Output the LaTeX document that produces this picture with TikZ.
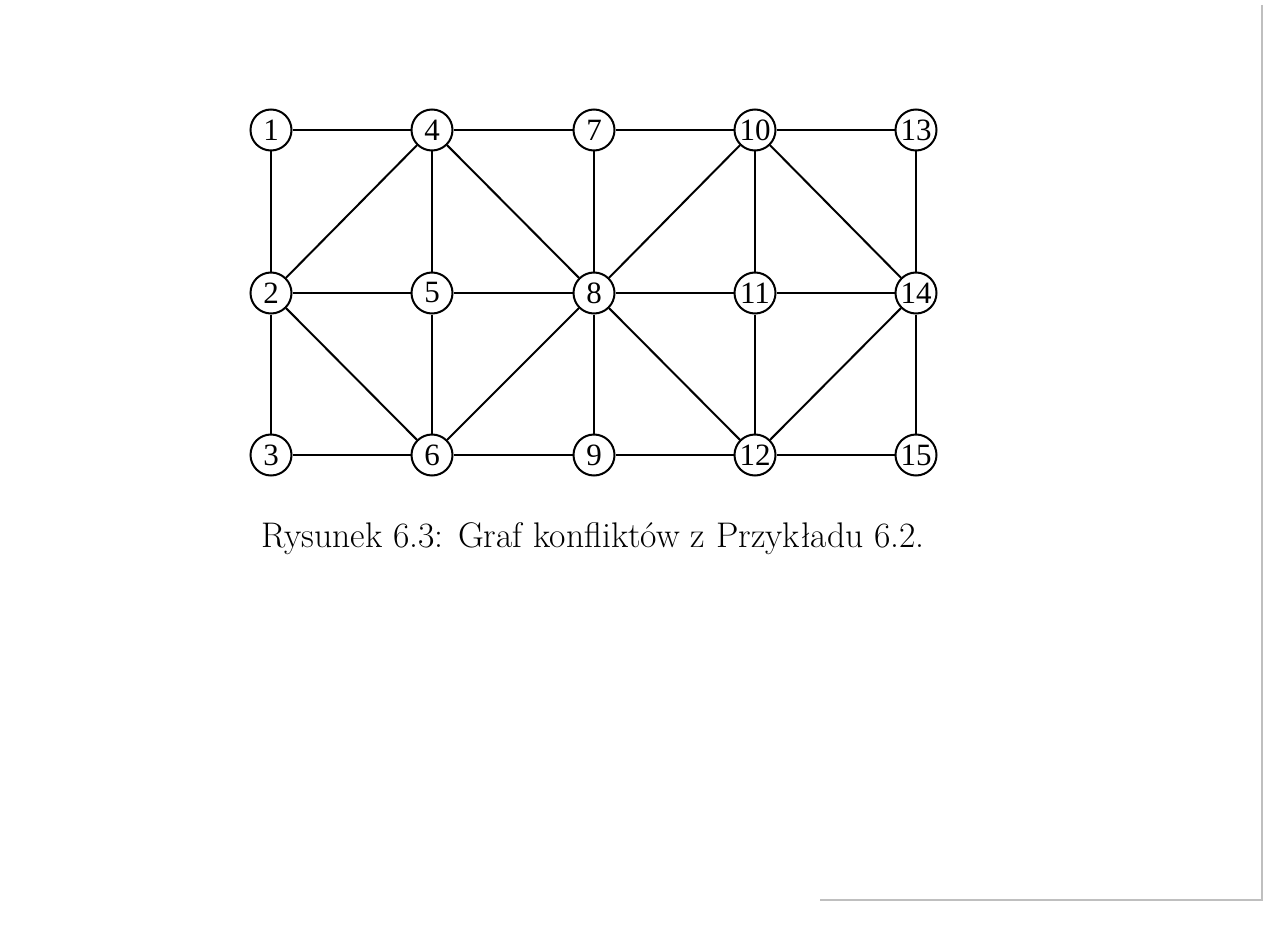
\documentclass[tikz,border=0pt]{standalone}
\usepackage{fontspec}
\newfontfamily\labelfont{Liberation Serif}
\begin{document}
\begin{tikzpicture}[x=0.5pt,y=-0.5pt,
  vtx/.style={circle,draw,line width=1pt,minimum size=20.5pt,inner sep=0pt,font=\labelfont\fontsize{15.5}{15.5}\selectfont},
  edge/.style={line width=1pt},
  scan/.style={line width=0.6pt,black!25}]
\useasboundingbox (0,0) rectangle (1268,925);
\foreach \c/\x in {0/271,1/432,2/594,3/755,4/916}{
  \foreach \r/\y in {1/130,2/293,3/455}{
    \pgfmathtruncatemacro{\n}{3*\c+\r}
    \node[vtx] (v\n) at (\x,\y) {\n};
  }
}
\foreach \a/\b in {1/4,4/7,7/10,10/13,2/5,5/8,8/11,11/14,3/6,6/9,9/12,12/15,
  1/2,2/3,4/5,5/6,7/8,8/9,10/11,11/12,13/14,14/15,
  2/4,4/8,2/6,6/8,8/10,10/14,8/12,12/14}
  \draw[edge] (v\a) -- (v\b);
\node[anchor=base,font=\fontsize{17.8}{21}\selectfont,inner sep=0pt] (cap) at (593,547) {Rysunek 6.3: Graf konfliktów z Przykładu 6.2.};
\coordinate (s1) at (1262,5);
\coordinate (s2) at (1262,900);
\coordinate (s3) at (820,900);
\draw[scan] (s1) -- (s2) -- (s3);
\end{tikzpicture}
\end{document}
